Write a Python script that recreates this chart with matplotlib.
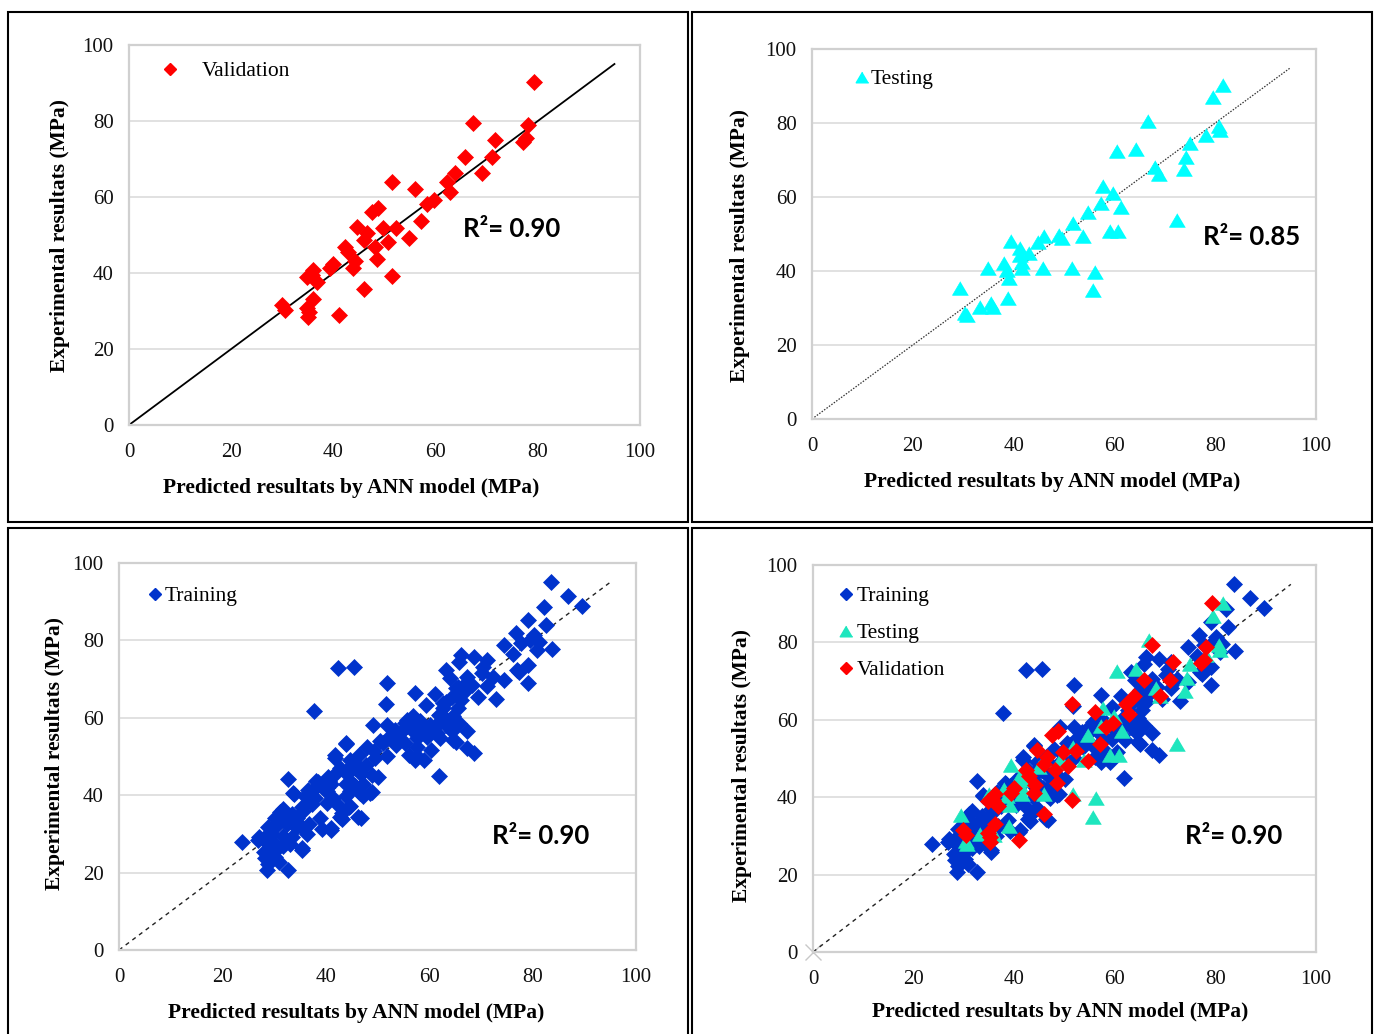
import matplotlib
matplotlib.use("Agg")
import matplotlib.pyplot as plt
from matplotlib.patches import Rectangle

# ---------------------------------------------------------------- data
# Validation set: predicted vs experimental compressive strength (MPa)
val_pred = [79.3, 67.4, 78.1, 77.2, 77.7, 71.6, 65.8, 71.0, 63.8, 69.0,
            62.2, 62.8, 51.5, 56.0, 59.6, 58.3, 48.8, 47.5, 57.1, 44.6,
            52.3, 49.8, 46.5, 54.7, 50.7, 45.9, 48.1, 42.3, 42.9, 48.5,
            44.2, 43.9, 40.0, 39.3, 51.5, 36.1, 34.8, 36.7, 35.8, 45.9,
            36.1, 29.9, 30.5, 34.8, 35.1, 35.2, 41.0]
val_exp = [90.3, 79.4, 78.9, 74.6, 75.5, 75.0, 70.4, 70.4, 66.2, 66.2,
           64.0, 61.4, 64.0, 62.0, 59.2, 58.2, 57.2, 56.1, 53.8, 52.2,
           51.9, 51.8, 50.4, 49.3, 48.1, 48.7, 46.9, 46.9, 45.6, 43.6,
           43.2, 41.2, 42.5, 41.2, 39.3, 40.8, 39.0, 37.7, 39.4, 35.7,
           33.1, 31.6, 30.3, 30.7, 28.5, 29.8, 28.9]

# Testing set
test_pred = [81.5, 79.5, 66.7, 80.8, 80.9, 78.2, 75.0, 74.3, 73.9, 60.5,
             64.2, 68.1, 68.9, 57.7, 59.8, 57.3, 61.4, 54.7, 51.7, 72.4,
             59.1, 60.8, 53.8, 49.1, 49.7, 46.0, 44.9, 39.4, 41.3, 43.1,
             41.3, 41.6, 38.0, 35.0, 41.6, 45.9, 51.6, 56.2, 38.6, 39.1,
             55.7, 29.4, 38.9, 33.3, 35.6, 35.9, 30.4, 30.7]
test_exp = [90.3, 86.9, 80.6, 79.2, 78.1, 76.8, 74.5, 70.7, 67.5, 72.5,
            73.0, 68.2, 66.2, 63.0, 61.0, 58.3, 57.2, 56.0, 52.9, 53.8,
            50.8, 50.8, 49.5, 49.7, 48.8, 49.5, 47.9, 48.2, 46.1, 44.8,
            44.4, 42.5, 42.2, 40.7, 40.7, 40.7, 40.7, 39.8, 40.4, 38.0,
            35.0, 35.3, 32.6, 30.4, 31.3, 30.3, 28.6, 28.0]

# Training set
train_pred = [83.6, 86.8, 89.6, 82.2, 79.1, 82.6, 76.8, 74.5, 80.2, 79.5,
              81.3, 77.7, 80.9, 83.8, 76.3, 79.1, 77.3, 79.1, 73.0, 74.5,
              71.2, 68.7, 70.5, 66.2, 65.8, 72.3, 71.2, 69.4, 63.3, 64.0,
              67.3, 61.2, 57.2, 59.4, 64.4, 62.6, 65.5, 66.9, 56.8, 55.7,
              60.1, 62.2, 64.7, 63.3, 61.5, 64.4, 67.3, 65.1, 67.3, 68.7,
              60.4, 61.9, 59.0, 57.6, 56.1, 57.6, 55.4, 51.8, 51.7, 49.1,
              51.8, 52.5, 53.6, 51.1, 49.3, 51.8, 49.6, 44.0, 46.4, 46.0,
              44.6, 41.7, 42.8, 47.8, 46.8, 50.0, 44.6, 47.1, 48.9, 47.1,
              44.6, 42.3, 45.5, 37.8, 43.9, 40.6, 39.2, 38.1, 41.4, 42.1,
              44.6, 43.2, 46.8, 43.2, 41.0, 39.2, 38.8, 37.4, 36.0, 33.8,
              32.7, 37.4, 35.6, 34.5, 33.5, 31.7, 31.3, 32.4, 30.2, 36.3,
              34.5, 33.5, 31.7, 35.3, 29.5, 28.1, 27.0, 23.7, 29.1, 30.2,
              28.1, 29.9, 30.9, 28.8, 28.6, 32.7, 33.1, 31.7, 38.1, 40.3,
              35.3, 36.7, 30.2, 28.8, 41.0, 41.7, 43.9, 45.3, 43.9, 45.7,
              40.3, 50.4, 54.0, 54.7, 56.1, 58.3, 59.0, 56.8, 63.3, 65.1,
              66.2, 68.3, 61.9, 65.8,
              33.7, 36.6, 38.4, 41.8, 44.0, 47.9, 48.5, 48.9, 46.3, 44.4,
              42.7, 41.1, 35.3, 31.1, 30.8, 28.6, 26.9, 28.2, 30.2, 33.4,
              35.3, 37.9, 39.8, 40.5, 43.7, 45.6, 46.6, 45.0,
              67.3, 70.2, 65.6, 62.7, 55.3, 57.9, 61.1, 63.4, 64.7, 59.5,
              62.1, 64.7, 57.6, 57.3, 53.4, 76.9]
train_exp = [95.2, 91.4, 89.0, 88.6, 85.4, 84.1, 81.9, 78.9, 81.3, 80.1,
             79.6, 79.2, 77.5, 77.7, 76.6, 73.6, 71.9, 68.9, 64.8, 69.8,
             74.9, 75.8, 73.2, 76.2, 74.5, 70.6, 68.1, 65.5, 72.3, 70.2,
             69.3, 66.1, 66.5, 63.2, 65.5, 62.5, 62.5, 66.8, 60.4, 59.5,
             58.2, 59.5, 60.4, 58.2, 56.1, 56.5, 56.5, 53.8, 52.1, 50.8,
             51.8, 44.9, 49.2, 50.1, 50.5, 54.8, 53.5, 69.1, 63.5, 58.2,
             58.2, 55.2, 53.1, 53.5, 51.4, 50.1, 49.7, 53.3, 50.5, 47.9,
             49.2, 49.7, 47.1, 47.9, 45.4, 44.7, 43.7, 42.8, 40.7, 39.8,
             41.1, 72.9, 73.1, 61.8, 39.8, 43.7, 42.8, 43.7, 39.4, 37.7,
             37.2, 35.5, 34.1, 33.8, 31.0, 31.3, 34.2, 41.1, 39.8, 40.2,
             44.3, 37.7, 36.0, 34.2, 35.1, 36.4, 34.2, 32.5, 31.7, 30.0,
             31.7, 29.1, 29.5, 25.9, 30.0, 28.3, 29.1, 27.8, 27.4, 27.4,
             25.3, 25.3, 22.7, 22.3, 20.7, 20.7, 27.4, 27.0, 42.0, 41.1,
             31.7, 32.5, 34.2, 31.7, 42.8, 45.4, 46.2, 47.1, 42.8, 42.4,
             38.1, 53.9, 54.8, 56.5, 58.2, 59.1, 56.1, 56.5, 64.2, 67.6,
             64.6, 68.5, 60.8, 58.6,
             40.5, 41.3, 43.5, 50.4, 53.4, 52.5, 40.5, 45.2, 34.3, 37.0,
             34.4, 31.4, 26.3, 35.7, 33.2, 29.7, 28.4, 23.7, 24.1, 32.7,
             37.0, 39.2, 41.3, 44.8, 46.1, 47.0, 40.5, 42.2,
             70.6, 71.5, 68.0, 63.7, 58.6, 57.7, 57.7, 59.4, 57.3, 55.1,
             54.7, 54.3, 52.5, 49.1, 56.8, 72.4]

r2_labels = ["R\u00b2= 0.90", "R\u00b2= 0.85", "R\u00b2= 0.90", "R\u00b2= 0.90"]
axis_ticks = [0, 20, 40, 60, 80, 100]
x_title = "Predicted resultats by ANN model (MPa)"
y_title = "Experimental resultats (MPa)"

# ---------------------------------------------------------------- style
W, H = 1379, 1034
SERIF = ["Liberation Serif", "DejaVu Serif"]
SANS = ["Lato", "DejaVu Sans"]
BLUE = "#0033CC"
RED = "#FF0000"
CYAN = "#00FFFF"
AQUA = "#1EE6BE"
TRI = [(0, 0.85), (-1, -0.85), (1, -0.85)]
TICK_FS = 15
LABEL_FS = 15.5
LEGEND_FS = 15.5

fig = plt.figure(figsize=(W / 100, H / 100), dpi=100)


def fx(px):
    return px / W


def fy(py):
    return 1 - py / H


def make_axes(left, top, right, bottom):
    ax = fig.add_axes([fx(left), fy(bottom), (right - left) / W, (bottom - top) / H])
    ax.set_xlim(0, 100)
    ax.set_ylim(0, 100)
    ax.set_xticks(axis_ticks)
    ax.set_yticks(axis_ticks)
    ax.set_xticklabels([str(t) for t in axis_ticks], fontfamily=SERIF, fontsize=TICK_FS)
    ax.set_yticklabels([str(t) for t in axis_ticks], fontfamily=SERIF, fontsize=TICK_FS)
    ax.tick_params(axis="x", length=0, pad=13, colors="#111111")
    ax.tick_params(axis="y", length=0, pad=11, colors="#111111")
    ax.grid(axis="y", color="#D9D9D9", lw=1.1)
    ax.set_axisbelow(True)
    for s in ax.spines.values():
        s.set_color("#D0D0D0")
        s.set_linewidth(1.6)
    return ax


def frame(left, top, right, bottom):
    fig.add_artist(Rectangle((fx(left), fy(bottom)), (right - left) / W,
                             (bottom - top) / H, fill=False, ec="black",
                             lw=1.5, transform=fig.transFigure))


def titles(xl_x, xl_y, yl_x, yl_y):
    fig.text(fx(xl_x), fy(xl_y), x_title, ha="center", va="center",
             fontfamily=SERIF, fontweight="bold", fontsize=LABEL_FS)
    fig.text(fx(yl_x), fy(yl_y), y_title, ha="center", va="center",
             rotation=90, fontfamily=SERIF, fontweight="bold", fontsize=LABEL_FS)


def r2(text, left, y):
    fig.text(fx(left), fy(y), text, ha="left", va="center",
             fontfamily=SANS, fontweight="bold", fontsize=18.5)


def legend_entry(mx, my, tx, label, marker, color, ms):
    fig.lines.append(plt.Line2D([fx(mx)], [fy(my)], marker=marker, ms=ms,
                                color=color, mec=color, ls="none",
                                transform=fig.transFigure))
    fig.text(fx(tx), fy(my + 2.5), label, ha="left", va="center",
             fontfamily=SERIF, fontsize=LEGEND_FS)


line_x = [0, 95]

# ---- Panel 1: validation
frame(8, 12, 688, 522)
ax1 = make_axes(129, 45, 640, 425)
ax1.plot(line_x, line_x, color="black", lw=1.3, zorder=2)
ax1.plot(val_pred, val_exp, ls="none", marker="D", ms=8, color=RED,
         mec=RED, mew=0.5, zorder=3)
legend_entry(170, 69, 202, "Validation", "D", RED, 6.2)
titles(351, 488, 60, 235)
r2(r2_labels[0], 463, 229)

# ---- Panel 2: testing
frame(692, 12, 1372, 522)
ax2 = make_axes(812, 49, 1316, 419)
ax2.plot(line_x, line_x, color="#333333", lw=0.9, ls=(0, (1.2, 1.2)), zorder=2)
ax2.plot(test_pred, test_exp, ls="none", marker=TRI, ms=11.5, color=CYAN,
         mec=CYAN, mew=0.5, zorder=3)
legend_entry(862, 77, 871, "Testing", TRI, CYAN, 9)
titles(1052, 482, 740, 246)
r2(r2_labels[1], 1203, 237)

# ---- Panel 3: training
frame(8, 528, 688, 1040)
ax3 = make_axes(119, 563, 636, 950)
ax3.plot(line_x, line_x, color="#222222", lw=1.0, ls=(0, (3, 3)), zorder=2)
ax3.plot(train_pred, train_exp, ls="none", marker="D", ms=8, color=BLUE,
         mec=BLUE, mew=0.5, zorder=3)
legend_entry(155, 594, 165, "Training", "D", BLUE, 6.2)
titles(356, 1013, 55, 754)
r2(r2_labels[2], 492, 836)

# ---- Panel 4: all data
frame(692, 528, 1372, 1040)
ax4 = make_axes(813, 565, 1316, 952)
ax4.plot([0], [0], ls="none", marker="x", ms=11, color="#C8C8C8", mew=1,
         clip_on=False, zorder=1)
ax4.plot(line_x, line_x, color="#222222", lw=1.0, ls=(0, (3, 3)), zorder=2)
ax4.plot(train_pred, train_exp, ls="none", marker="D", ms=8, color=BLUE,
         mec=BLUE, mew=0.5, zorder=3)
ax4.plot(test_pred, test_exp, ls="none", marker=TRI, ms=11.5, color=AQUA,
         mec=AQUA, mew=0.5, zorder=4)
ax4.plot(val_pred, val_exp, ls="none", marker="D", ms=8, color=RED,
         mec=RED, mew=0.5, zorder=5)
legend_entry(846, 594, 857, "Training", "D", BLUE, 6.2)
legend_entry(846, 631, 857, "Testing", TRI, AQUA, 9)
legend_entry(846, 668, 857, "Validation", "D", RED, 6.2)
titles(1060, 1012, 742, 766)
r2(r2_labels[3], 1185, 836)

fig.savefig("out.png", dpi=100, facecolor="white")
